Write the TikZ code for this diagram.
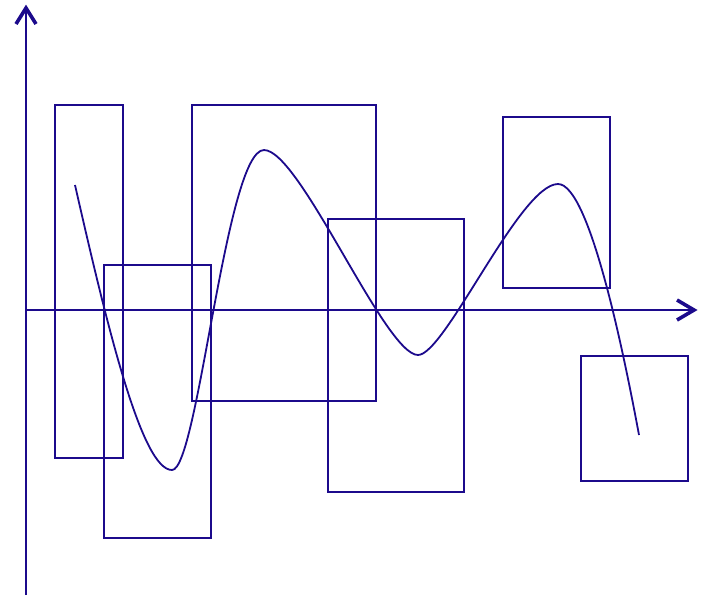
\documentclass[tikz,border=0pt]{standalone}
\usetikzlibrary{arrows.meta}
\definecolor{ink}{RGB}{28,10,140}
\tikzset{
  frame/.style={draw=ink, line width=1.6pt, inner sep=0, outer sep=0, anchor=north west},
  axis/.style={draw=ink, line width=1.8pt},
  wave/.style={draw=ink, line width=1.8pt},
  tip/.style={draw=ink, line width=3.6pt, line cap=butt, line join=miter}
}
\begin{document}
\begin{tikzpicture}[x=1pt,y=-1pt]
  \useasboundingbox (0,0) rectangle (708,595);
  % coordinate axes
  \coordinate (o) at (26,310);
  \coordinate (ytop) at (26,9);
  \coordinate (ybot) at (26,595);
  \coordinate (xend) at (694,310);
  \draw[axis] (ybot) -- (ytop);
  \draw[axis] (o) -- (xend);
  \draw[tip] (16,24) -- (26,8) -- (36,24);
  \draw[tip] (677,300) -- (694,310) -- (677,320);
  % rectangles
  \node[frame, minimum width=68, minimum height=353] (r1) at (55,105) {};
  \node[frame, minimum width=107, minimum height=273] (r2) at (104,265) {};
  \node[frame, minimum width=184, minimum height=296] (r3) at (192,105) {};
  \node[frame, minimum width=136, minimum height=273] (r4) at (328,219) {};
  \node[frame, minimum width=107, minimum height=171] (r5) at (503,117) {};
  \node[frame, minimum width=107, minimum height=125] (r6) at (581,356) {};
  % the curve
  \coordinate (c0) at (75,185);
  \coordinate (c1) at (172,470);
  \coordinate (c2) at (264,150);
  \coordinate (c3) at (418,355);
  \coordinate (c4) at (558,184);
  \coordinate (c5) at (639,435);
  \draw[wave] (c0) .. controls (108,330) and (142,470) .. (c1)
    .. controls (198,470) and (226,150) .. (c2)
    .. controls (300,150) and (385,355) .. (c3)
    .. controls (445,355) and (520,184) .. (c4)
    .. controls (590,184) and (625,360) .. (c5);
\end{tikzpicture}
\end{document}
